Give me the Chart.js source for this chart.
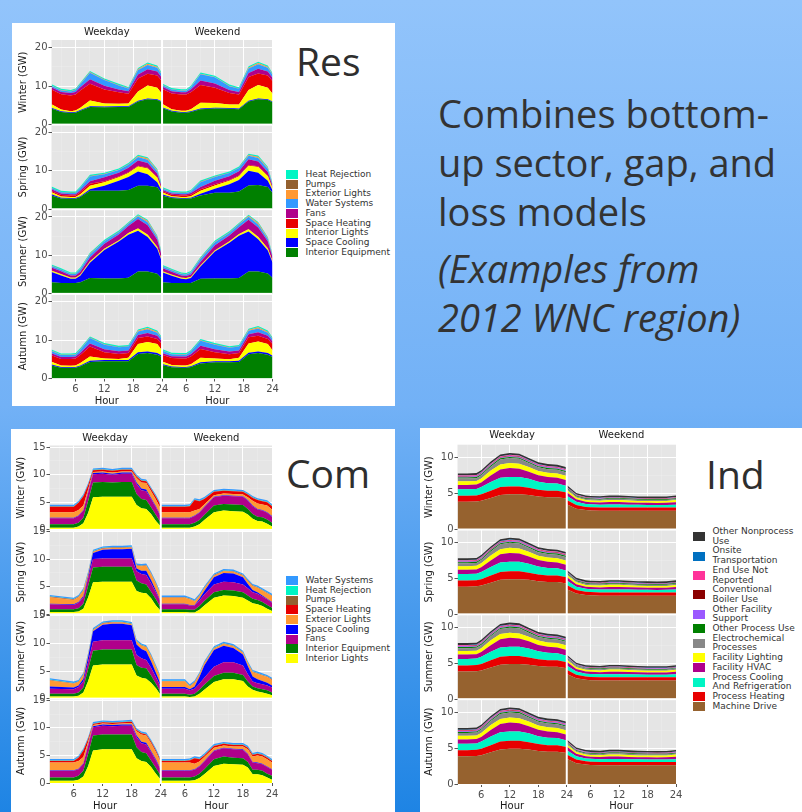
<!DOCTYPE html>
<html>
<head>
<meta charset="utf-8">
<title>Bottom-up load models</title>
<script src="https://cdn.jsdelivr.net/npm/chart.js@4.4.1/dist/chart.umd.min.js"></script>
<style>
  html, body { margin: 0; padding: 0; }
  body {
    width: 802px; height: 812px; position: relative; overflow: hidden;
    background: linear-gradient(180deg, #92c4fb 0%, #72b1f6 50%, #1e84e4 100%);
    font-family: 'DejaVu Sans', sans-serif;
  }
  .panel { position: absolute; background: #fff; }
  canvas { position: absolute; }
  .sector { position: absolute; font-family: 'Open Sans', sans-serif; font-size: 39px; line-height: 39px; color: #2e2e2e; }
  .blurb { position: absolute; left: 438px; top: 89px; font-family: 'Open Sans', sans-serif; font-size: 38px; line-height: 49px; color: #333; }
  .blurb p { margin: 0; white-space: nowrap; }
  .blurb p + p { margin-top: 8px; font-style: italic; }
  .legend { position: absolute; font-size: 9px; color: #333; }
  .legend .item { display: flex; align-items: center; }
  .legend .sw { flex: none; width: 11.5px; height: 9px; margin-right: 8px; }
  .legend .tx { white-space: pre-line; line-height: 9.7px; }
</style>
</head>
<body>
<div class="panel" style="left:12px;top:23px;width:383px;height:383px"></div>
<div class="panel" style="left:11px;top:429px;width:384px;height:383px"></div>
<div class="panel" style="left:420px;top:428px;width:382px;height:384px"></div>

<canvas id="resChart" width="270" height="386" style="left:12px;top:23px"></canvas>
<canvas id="comChart" width="272" height="386" style="left:11px;top:429px"></canvas>
<canvas id="indChart" width="268" height="386" style="left:420px;top:428px"></canvas>

<div class="sector" style="left:296px;top:41px">Res</div>
<div class="sector" style="left:286px;top:453px">Com</div>
<div class="sector" style="left:706px;top:454px">Ind</div>

<div class="blurb">
  <p>Combines bottom-<br>up sector, gap, and<br>loss models</p>
  <p>(Examples from<br>2012 WNC region)</p>
</div>

<div class="legend" id="resLegend" style="left:286px;top:170px"></div>
<div class="legend" id="comLegend" style="left:286px;top:576px"></div>
<div class="legend" id="indLegend" style="left:693px;top:527px"></div>

<script>
Chart.defaults.font.family = "'DejaVu Sans', sans-serif";
Chart.defaults.font.size = 10;

const seasons = ['Winter', 'Spring', 'Summer', 'Autumn'];
const dayTypes = ['Weekday', 'Weekend'];
const hourTicks = [3, 6, 9, 12, 15, 18, 21, 24];
const hourLabels = [6, 12, 18, 24];

// ---------------- Residential ----------------
const resHours = [1, 3, 5, 6, 7, 9, 12, 15, 17, 19, 21, 23, 24];
const resNames = ['Interior Equipment', 'Space Cooling', 'Interior Lights', 'Space Heating', 'Fans',
  'Water Systems', 'Exterior Lights', 'Pumps', 'Heat Rejection'];
const resColors = ['#008000', '#0000ff', '#ffff00', '#e80000', '#b0008b',
  '#3399ff', '#ff9933', '#93602f', '#00f5c4'];
const resYTicks = [0, 5, 10, 15, 20];
const resYLabels = [0, 10, 20];

const resCoolLow = [0.2, 0.2, 0.2, 0.2, 0.2, 0.2, 0.2, 0.2, 0.2, 0.2, 0.2, 0.2, 0.2];
const resAutumnCool = [0.25, 0.2, 0.2, 0.2, 0.2, 0.3, 0.3, 0.3, 0.3, 0.4, 0.4, 0.4, 0.3];
const resHeatLow = [0.05, 0.05, 0.05, 0.05, 0.05, 0.05, 0.05, 0.05, 0.05, 0.05, 0.05, 0.05, 0.05];
const resExtLights = [0.05, 0.05, 0.05, 0.05, 0.05, 0.1, 0.05, 0.05, 0.05, 0.2, 0.3, 0.2, 0.1];
const resPumps = [0.05, 0.05, 0.05, 0.05, 0.05, 0.05, 0.05, 0.05, 0.05, 0.05, 0.05, 0.05, 0.05];
const resHeatRej = [0.3, 0.3, 0.3, 0.3, 0.3, 0.3, 0.3, 0.3, 0.3, 0.3, 0.3, 0.3, 0.3];

// layers bottom to top, GW
const resWinterWeekday = [
  [4.2, 3.3, 3.0, 3.1, 3.6, 4.6, 4.5, 4.6, 4.6, 6.0, 6.6, 6.4, 5.8],
  resCoolLow,
  [0.9, 0.4, 0.3, 0.4, 0.6, 1.5, 0.8, 0.6, 0.7, 2.4, 3.4, 3.0, 2.0],
  [3.8, 4.0, 4.1, 4.1, 4.5, 4.3, 3.6, 3.0, 2.5, 3.4, 3.0, 3.2, 3.3],
  [0.6, 0.6, 0.6, 0.7, 0.8, 1.2, 1.0, 0.7, 0.7, 1.0, 1.2, 1.0, 0.8],
  [0.4, 0.4, 0.4, 0.5, 0.8, 1.7, 1.5, 1.1, 0.7, 1.2, 1.1, 1.0, 0.8],
  resExtLights, resPumps, resHeatRej
];
const resWinterWeekend = [
  [4.3, 3.4, 3.1, 3.1, 3.3, 4.0, 4.2, 4.1, 4.0, 6.0, 6.6, 6.4, 5.8],
  resCoolLow,
  [0.9, 0.4, 0.3, 0.3, 0.5, 1.5, 1.2, 0.9, 1.0, 2.8, 3.5, 3.0, 2.0],
  [3.9, 4.1, 4.2, 4.2, 4.4, 4.6, 4.0, 3.0, 2.6, 3.4, 3.0, 3.2, 3.3],
  [0.6, 0.6, 0.6, 0.6, 0.7, 1.2, 1.1, 0.8, 0.7, 1.0, 1.2, 1.0, 0.8],
  [0.4, 0.4, 0.4, 0.4, 0.6, 1.6, 1.6, 1.0, 0.8, 1.2, 1.2, 1.0, 0.8],
  resExtLights, resPumps, resHeatRej
];
const resSpringWeekday = [
  [3.6, 2.8, 2.7, 2.7, 3.2, 4.8, 4.8, 4.8, 5.0, 6.1, 6.1, 5.7, 4.0],
  [0.3, 0.2, 0.2, 0.2, 0.2, 0.4, 1.3, 2.6, 3.4, 3.7, 3.0, 1.3, 0.6],
  [0.5, 0.3, 0.3, 0.3, 0.5, 0.9, 0.9, 0.9, 1.0, 1.3, 1.5, 1.2, 0.3],
  [0.3, 0.4, 0.4, 0.4, 0.5, 0.5, 0.3, 0.2, 0.2, 0.2, 0.2, 0.2, 0.3],
  [0.5, 0.4, 0.3, 0.3, 0.5, 0.7, 1.0, 1.0, 1.2, 1.4, 1.2, 0.8, 0.4],
  [0.3, 0.3, 0.3, 0.3, 0.6, 1.2, 0.8, 0.7, 0.8, 0.9, 0.9, 0.7, 0.3],
  resExtLights, resPumps, resHeatRej
];
const resSpringWeekend = [
  [3.6, 2.9, 2.7, 2.7, 2.8, 3.6, 4.3, 4.3, 4.6, 6.2, 6.3, 5.8, 4.2],
  [0.3, 0.2, 0.2, 0.2, 0.2, 0.4, 1.0, 2.2, 3.0, 3.8, 3.2, 1.6, 0.7],
  [0.5, 0.3, 0.3, 0.3, 0.4, 0.8, 0.9, 0.9, 1.0, 1.3, 1.5, 1.2, 0.4],
  [0.3, 0.4, 0.4, 0.4, 0.4, 0.4, 0.3, 0.2, 0.2, 0.2, 0.2, 0.2, 0.3],
  [0.4, 0.3, 0.3, 0.3, 0.4, 0.6, 0.9, 1.0, 1.1, 1.5, 1.2, 0.9, 0.4],
  [0.3, 0.3, 0.3, 0.3, 0.4, 1.2, 1.0, 0.8, 0.8, 0.9, 0.9, 0.8, 0.3],
  resExtLights, resPumps, resHeatRej
];
const resSummerWeekday = [
  [3.0, 2.8, 2.8, 2.8, 3.0, 4.1, 4.0, 4.0, 4.2, 5.8, 5.8, 5.2, 3.9],
  [2.7, 2.0, 1.1, 1.1, 1.7, 4.0, 7.4, 9.6, 11.2, 10.6, 9.0, 6.5, 4.4],
  [0.3, 0.3, 0.3, 0.3, 0.3, 0.3, 0.3, 0.3, 0.4, 0.6, 0.6, 0.5, 0.3],
  resHeatLow,
  [0.8, 0.7, 0.5, 0.5, 0.7, 1.0, 1.3, 1.5, 1.8, 2.4, 2.4, 1.8, 1.0],
  [0.4, 0.4, 0.4, 0.4, 0.7, 0.8, 0.6, 0.6, 0.6, 0.7, 0.8, 0.6, 0.4],
  resExtLights, resPumps, resHeatRej
];
const resSummerWeekend = [
  [3.0, 2.8, 2.8, 2.8, 2.8, 3.9, 4.0, 4.0, 4.1, 5.8, 5.8, 5.3, 4.1],
  [2.6, 1.9, 1.1, 1.0, 1.3, 3.2, 7.0, 9.3, 11.0, 10.4, 8.4, 6.0, 4.0],
  [0.3, 0.3, 0.3, 0.3, 0.3, 0.3, 0.3, 0.3, 0.4, 0.6, 0.6, 0.5, 0.3],
  resHeatLow,
  [0.8, 0.7, 0.5, 0.5, 0.6, 0.9, 1.3, 1.5, 1.8, 2.4, 2.4, 1.8, 1.0],
  [0.4, 0.4, 0.4, 0.4, 0.5, 0.8, 0.8, 0.7, 0.7, 0.8, 0.8, 0.6, 0.4],
  resExtLights, resPumps, resHeatRej
];
const resAutumnWeekday = [
  [3.4, 2.8, 2.7, 2.8, 3.2, 4.3, 4.5, 4.5, 4.5, 6.4, 6.6, 6.2, 5.6],
  resAutumnCool,
  [0.7, 0.4, 0.4, 0.4, 0.6, 1.1, 0.4, 0.3, 0.6, 2.2, 2.5, 2.4, 1.4],
  [1.7, 1.7, 1.8, 1.8, 2.1, 2.6, 1.6, 1.3, 1.2, 1.5, 1.4, 1.3, 1.7],
  [0.5, 0.5, 0.5, 0.5, 0.6, 0.8, 0.8, 0.7, 0.7, 0.8, 0.9, 0.8, 0.6],
  [0.6, 0.5, 0.5, 0.5, 0.8, 1.4, 1.2, 1.0, 1.0, 0.9, 1.0, 0.8, 0.6],
  resExtLights, resPumps, resHeatRej
];
const resAutumnWeekend = [
  [3.5, 2.9, 2.8, 2.8, 3.0, 3.9, 4.2, 4.2, 4.3, 6.3, 6.6, 6.2, 5.6],
  resAutumnCool,
  [0.7, 0.4, 0.4, 0.4, 0.5, 1.2, 0.7, 0.5, 0.8, 2.4, 2.6, 2.4, 1.4],
  [1.7, 1.8, 1.8, 1.8, 2.0, 2.3, 1.6, 1.3, 1.2, 1.6, 1.5, 1.3, 1.7],
  [0.5, 0.5, 0.5, 0.5, 0.6, 0.8, 0.8, 0.7, 0.7, 0.8, 0.9, 0.8, 0.6],
  [0.6, 0.5, 0.5, 0.5, 0.7, 1.3, 1.2, 1.0, 1.0, 0.9, 1.0, 0.8, 0.6],
  resExtLights, resPumps, resHeatRej
];

// ---------------- Commercial ----------------
const comHours = [1, 6, 7, 8, 9, 10, 12, 14, 16, 18, 19, 20, 21, 22, 23, 24];
const comNames = ['Interior Lights', 'Interior Equipment', 'Fans', 'Space Cooling', 'Exterior Lights',
  'Space Heating', 'Pumps', 'Heat Rejection', 'Water Systems'];
const comColors = ['#ffff00', '#008000', '#b0008b', '#0000ff', '#ff9933',
  '#e80000', '#93602f', '#00f5c4', '#3399ff'];
const comYTicks = [0, 2.5, 5, 7.5, 10, 12.5, 15];
const comYLabels = [0, 5, 10, 15];

const comCoolLow = [0.1, 0.1, 0.1, 0.1, 0.1, 0.1, 0.1, 0.1, 0.1, 0.1, 0.1, 0.1, 0.1, 0.1, 0.1, 0.1];
const comHeatLow = [0.05, 0.05, 0.05, 0.05, 0.05, 0.05, 0.05, 0.05, 0.05, 0.05, 0.05, 0.05, 0.05, 0.05, 0.05, 0.05];
const comPumps = [0.05, 0.05, 0.05, 0.05, 0.05, 0.05, 0.05, 0.05, 0.05, 0.05, 0.05, 0.05, 0.05, 0.05, 0.05, 0.05];
const comHeatRej = [0.05, 0.05, 0.05, 0.05, 0.05, 0.05, 0.05, 0.05, 0.05, 0.05, 0.05, 0.05, 0.05, 0.05, 0.05, 0.05];
const comWater = [0.25, 0.25, 0.25, 0.25, 0.25, 0.25, 0.25, 0.25, 0.25, 0.25, 0.25, 0.25, 0.25, 0.25, 0.25, 0.25];

const comWinterWeekday = [
  [0.4, 0.4, 0.6, 1.2, 3.1, 5.9, 6.0, 6.0, 6.0, 6.0, 4.5, 3.9, 3.8, 2.9, 1.6, 0.6],
  [0.6, 0.6, 0.7, 1.0, 2.2, 2.7, 2.7, 2.6, 2.7, 2.7, 2.0, 1.7, 1.6, 1.2, 1.1, 0.7],
  [1.1, 1.1, 1.2, 1.3, 1.5, 1.5, 1.5, 1.4, 1.5, 1.5, 1.8, 1.6, 1.6, 1.5, 1.4, 1.1],
  [0.1, 0.1, 0.1, 0.1, 0.15, 0.2, 0.2, 0.2, 0.2, 0.2, 0.3, 0.3, 0.3, 0.2, 0.2, 0.1],
  [1.0, 1.0, 1.0, 0.8, 0.4, 0.2, 0.2, 0.2, 0.2, 0.2, 0.8, 1.1, 1.2, 1.2, 1.2, 1.3],
  [1.0, 1.0, 1.3, 1.7, 0.8, 0.3, 0.3, 0.3, 0.3, 0.3, 0.3, 0.3, 0.3, 0.4, 0.5, 0.6],
  comPumps, comHeatRej, comWater
];
const comWinterWeekend = [
  [0.4, 0.4, 0.4, 0.6, 1.0, 1.8, 3.2, 3.5, 3.4, 3.3, 2.8, 2.0, 1.6, 1.5, 1.1, 0.6],
  [0.6, 0.6, 0.6, 0.7, 0.8, 0.9, 1.2, 1.2, 1.2, 1.2, 1.0, 0.9, 0.8, 0.8, 0.8, 0.7],
  [1.1, 1.1, 1.1, 1.2, 1.3, 1.4, 1.5, 1.5, 1.5, 1.5, 1.5, 1.4, 1.3, 1.2, 1.2, 1.1],
  comCoolLow,
  [1.0, 1.0, 1.0, 0.9, 0.6, 0.4, 0.3, 0.3, 0.3, 0.3, 0.5, 0.9, 1.0, 1.0, 1.2, 1.2],
  [1.0, 1.0, 1.1, 1.9, 1.4, 1.0, 0.6, 0.5, 0.5, 0.5, 0.5, 0.5, 0.6, 0.6, 0.6, 0.6],
  comPumps, comHeatRej, comWater
];
const comSpringWeekday = [
  [0.4, 0.4, 0.5, 1.0, 3.1, 5.8, 5.9, 5.9, 5.9, 5.9, 4.2, 3.9, 3.8, 2.9, 1.6, 0.6],
  [0.5, 0.5, 0.6, 0.9, 2.1, 2.7, 2.7, 2.7, 2.7, 2.7, 1.9, 1.7, 1.6, 1.2, 1.1, 0.6],
  [0.9, 0.8, 1.0, 1.2, 1.4, 1.5, 1.5, 1.5, 1.5, 1.5, 1.7, 1.7, 1.7, 1.5, 1.3, 1.0],
  [0.1, 0.1, 0.1, 0.2, 0.4, 1.1, 1.6, 1.7, 1.7, 1.8, 0.5, 0.6, 0.8, 0.6, 0.3, 0.1],
  [1.2, 0.8, 0.9, 1.0, 0.4, 0.2, 0.2, 0.2, 0.2, 0.2, 0.5, 0.8, 0.9, 1.1, 1.2, 1.2],
  comHeatLow, comPumps, comHeatRej, comWater
];
const comSpringWeekend = [
  [0.4, 0.4, 0.3, 0.3, 0.8, 1.6, 3.0, 3.4, 3.3, 3.0, 2.5, 2.0, 1.8, 1.5, 1.0, 0.6],
  [0.5, 0.5, 0.5, 0.5, 0.7, 0.8, 1.0, 1.0, 1.0, 1.0, 0.9, 0.8, 0.8, 0.7, 0.7, 0.6],
  [0.9, 0.9, 0.8, 0.8, 1.0, 1.2, 1.4, 1.5, 1.5, 1.4, 1.3, 1.2, 1.1, 1.0, 1.0, 0.9],
  [0.1, 0.1, 0.1, 0.1, 0.3, 0.6, 1.3, 1.6, 1.6, 1.3, 0.8, 0.4, 0.3, 0.2, 0.1, 0.1],
  [1.1, 1.1, 1.0, 0.6, 0.5, 0.5, 0.3, 0.3, 0.3, 0.3, 0.5, 0.7, 0.8, 0.9, 1.0, 1.1],
  comHeatLow, comPumps, comHeatRej, comWater
];
const comSummerWeekday = [
  [0.4, 0.4, 0.5, 1.1, 3.2, 6.0, 6.2, 6.2, 6.2, 6.2, 4.2, 3.8, 3.6, 2.9, 1.9, 0.6],
  [0.5, 0.5, 0.6, 0.9, 2.2, 2.7, 2.7, 2.7, 2.7, 2.7, 1.9, 1.8, 1.9, 1.3, 0.8, 0.5],
  [0.9, 0.8, 1.0, 1.1, 1.3, 1.6, 1.7, 1.7, 1.7, 1.7, 1.8, 1.7, 1.5, 1.4, 1.2, 1.0],
  [0.4, 0.3, 0.3, 0.5, 0.9, 1.9, 2.8, 3.0, 3.0, 2.7, 1.9, 1.7, 1.6, 1.2, 0.8, 0.5],
  [1.1, 0.7, 0.6, 0.7, 0.3, 0.2, 0.2, 0.2, 0.2, 0.2, 0.5, 0.6, 0.7, 0.9, 1.0, 1.0],
  comHeatLow, comPumps, comHeatRej, comWater
];
const comSummerWeekend = [
  [0.4, 0.4, 0.3, 0.4, 0.9, 1.6, 3.0, 3.5, 3.5, 3.2, 2.2, 1.6, 1.3, 1.1, 0.9, 0.6],
  [0.5, 0.5, 0.4, 0.5, 0.7, 0.9, 1.1, 1.2, 1.2, 1.1, 0.9, 0.6, 0.6, 0.6, 0.6, 0.5],
  [0.9, 0.9, 0.8, 0.9, 1.1, 1.3, 1.7, 1.9, 1.9, 1.7, 1.3, 0.9, 0.9, 0.9, 0.9, 0.9],
  [0.3, 0.3, 0.2, 0.4, 1.2, 2.2, 3.0, 3.0, 2.6, 2.0, 1.5, 0.9, 0.7, 0.6, 0.5, 0.4],
  [1.0, 1.0, 0.5, 0.7, 0.5, 0.4, 0.3, 0.3, 0.3, 0.3, 0.5, 0.8, 1.0, 1.0, 1.0, 1.0],
  comHeatLow, comPumps, comHeatRej, comWater
];
const comAutumnWeekday = [
  [0.4, 0.4, 0.6, 1.2, 3.1, 5.9, 6.1, 6.1, 6.1, 6.1, 4.5, 4.0, 3.8, 2.9, 1.7, 0.6],
  [0.6, 0.6, 0.7, 1.0, 2.2, 2.7, 2.7, 2.7, 2.7, 2.7, 2.0, 1.6, 1.6, 1.2, 1.0, 0.7],
  [1.2, 1.2, 1.2, 1.3, 1.5, 1.5, 1.6, 1.5, 1.6, 1.6, 1.8, 1.6, 1.6, 1.5, 1.4, 1.1],
  [0.1, 0.1, 0.1, 0.1, 0.2, 0.2, 0.2, 0.2, 0.2, 0.2, 0.3, 0.3, 0.3, 0.2, 0.2, 0.1],
  [1.4, 1.4, 1.4, 1.1, 0.5, 0.2, 0.2, 0.2, 0.2, 0.3, 0.8, 1.3, 1.3, 1.4, 1.3, 1.2],
  [0.3, 0.3, 0.6, 1.2, 0.5, 0.2, 0.2, 0.2, 0.2, 0.2, 0.2, 0.2, 0.2, 0.3, 0.3, 0.3],
  comPumps, comHeatRej, comWater
];
const comAutumnWeekend = [
  [0.4, 0.4, 0.4, 0.5, 0.9, 1.6, 3.1, 3.5, 3.4, 3.3, 2.8, 1.6, 1.6, 1.4, 1.0, 0.6],
  [0.6, 0.6, 0.6, 0.7, 0.8, 0.9, 1.2, 1.3, 1.2, 1.2, 1.0, 0.8, 0.8, 0.8, 0.7, 0.7],
  [1.2, 1.2, 1.2, 1.2, 1.3, 1.4, 1.5, 1.5, 1.5, 1.5, 1.4, 1.3, 1.2, 1.2, 1.2, 1.1],
  comCoolLow,
  [1.4, 1.4, 1.4, 1.0, 0.8, 0.7, 0.5, 0.4, 0.4, 0.5, 0.8, 1.0, 1.3, 1.3, 1.3, 1.2],
  [0.3, 0.3, 0.4, 1.0, 0.4, 0.3, 0.3, 0.3, 0.3, 0.3, 0.3, 0.3, 0.3, 0.3, 0.3, 0.3],
  comPumps, comHeatRej, comWater
];

// ---------------- Industrial ----------------
const indHours = [1, 3, 5, 6, 8, 10, 12, 14, 16, 18, 20, 22, 24];
const indNames = ['Machine Drive', 'Process Heating', 'Process Cooling\nAnd Refrigeration', 'Facility HVAC',
  'Facility Lighting', 'Electrochemical\nProcesses', 'Other Process Use', 'Other Facility\nSupport',
  'Conventional\nBoiler Use', 'End Use Not\nReported', 'Onsite\nTransportation', 'Other Nonprocess\nUse'];
const indColors = ['#96622f', '#e80000', '#00f5c4', '#b0008b', '#ffff00', '#888888',
  '#008000', '#9b59ff', '#8b0000', '#ff3399', '#0070c0', '#333333'];
const indYTicks = [0, 2.5, 5, 7.5, 10];
const indYLabels = [0, 5, 10];

const indWeekday = [
  [3.85, 3.85, 3.9, 4.0, 4.4, 4.8, 4.9, 4.9, 4.8, 4.6, 4.5, 4.5, 4.3],
  [0.85, 0.85, 0.85, 0.9, 1.0, 1.1, 1.1, 1.1, 1.0, 0.95, 0.9, 0.9, 0.85],
  [0.9, 0.9, 0.9, 1.0, 1.2, 1.3, 1.3, 1.3, 1.25, 1.1, 1.05, 1.0, 0.9],
  [0.6, 0.6, 0.6, 0.65, 0.9, 1.15, 1.25, 1.15, 1.0, 0.9, 0.85, 0.8, 0.8],
  [0.5, 0.5, 0.5, 0.55, 0.7, 0.7, 0.7, 0.7, 0.65, 0.6, 0.6, 0.6, 0.6],
  [0.4, 0.4, 0.4, 0.45, 0.55, 0.7, 0.7, 0.7, 0.55, 0.5, 0.5, 0.5, 0.5],
  [0.15, 0.15, 0.15, 0.15, 0.15, 0.15, 0.15, 0.15, 0.15, 0.15, 0.15, 0.15, 0.15],
  [0.1, 0.1, 0.1, 0.1, 0.1, 0.1, 0.1, 0.1, 0.1, 0.1, 0.1, 0.1, 0.1],
  [0.05, 0.05, 0.05, 0.05, 0.05, 0.05, 0.05, 0.05, 0.05, 0.05, 0.05, 0.05, 0.05],
  [0.1, 0.1, 0.1, 0.1, 0.1, 0.1, 0.1, 0.1, 0.1, 0.1, 0.1, 0.1, 0.1],
  [0.05, 0.05, 0.05, 0.05, 0.05, 0.05, 0.05, 0.05, 0.05, 0.05, 0.05, 0.05, 0.05],
  [0.25, 0.25, 0.25, 0.25, 0.25, 0.25, 0.25, 0.25, 0.25, 0.25, 0.25, 0.25, 0.25]
];
const indWeekend = [
  [3.5, 2.9, 2.7, 2.65, 2.6, 2.6, 2.6, 2.6, 2.6, 2.6, 2.6, 2.6, 2.6],
  [0.6, 0.5, 0.45, 0.45, 0.45, 0.45, 0.45, 0.45, 0.45, 0.45, 0.45, 0.45, 0.45],
  [0.6, 0.45, 0.4, 0.4, 0.4, 0.42, 0.42, 0.4, 0.38, 0.36, 0.35, 0.36, 0.4],
  [0.5, 0.35, 0.3, 0.3, 0.3, 0.35, 0.35, 0.32, 0.3, 0.3, 0.3, 0.3, 0.35],
  [0.3, 0.25, 0.25, 0.25, 0.25, 0.3, 0.3, 0.28, 0.25, 0.25, 0.25, 0.25, 0.3],
  [0.2, 0.15, 0.15, 0.15, 0.15, 0.15, 0.15, 0.15, 0.15, 0.15, 0.15, 0.15, 0.15],
  [0.1, 0.1, 0.1, 0.1, 0.1, 0.1, 0.1, 0.1, 0.1, 0.1, 0.1, 0.1, 0.1],
  [0.05, 0.05, 0.05, 0.05, 0.05, 0.05, 0.05, 0.05, 0.05, 0.05, 0.05, 0.05, 0.05],
  [0.03, 0.03, 0.03, 0.03, 0.03, 0.03, 0.03, 0.03, 0.03, 0.03, 0.03, 0.03, 0.03],
  [0.05, 0.05, 0.05, 0.05, 0.05, 0.05, 0.05, 0.05, 0.05, 0.05, 0.05, 0.05, 0.05],
  [0.03, 0.03, 0.03, 0.03, 0.03, 0.03, 0.03, 0.03, 0.03, 0.03, 0.03, 0.03, 0.03],
  [0.22, 0.22, 0.22, 0.22, 0.22, 0.22, 0.22, 0.22, 0.22, 0.22, 0.22, 0.22, 0.22]
];

// gray facet backgrounds and the white gutters between facets
const facetBackdrop = {
  id: 'facetBackdrop',
  beforeDraw(chart) {
    const { ctx, chartArea: a } = chart;
    ctx.save();
    ctx.fillStyle = '#e5e5e5';
    ctx.fillRect(a.left, a.top, a.right - a.left, a.bottom - a.top);
    ctx.restore();
  },
  afterDatasetsDraw(chart) {
    const { ctx, chartArea: a, scales } = chart;
    ctx.save();
    ctx.fillStyle = '#ffffff';
    for (let s = 0; s < seasons.length - 1; s++) {
      ctx.fillRect(a.left, scales['y' + s].bottom - 1, a.right - a.left, 2);
    }
    ctx.fillRect(scales.xd.right - 1, a.top, 2, a.bottom - a.top);
    ctx.restore();
  }
};

const Y_AXIS_W = 34;
const MINOR_GRID = 'rgba(255,255,255,0.3)';

function drawPanel(canvasId, p) {
  const canvas = document.getElementById(canvasId);
  const cx = parseFloat(canvas.style.left), cy = parseFloat(canvas.style.top);
  const [L, T, R, B] = p.area;

  const datasets = [];
  p.data.forEach((days, s) => {
    days.forEach((layers, d) => {
      layers.forEach((vals, k) => {
        datasets.push({
          label: p.names[k],
          data: vals.map((v, i) => ({ x: p.hours[i], y: v })),
          xAxisID: d === 0 ? 'xd' : 'xe',
          yAxisID: 'y' + s,
          backgroundColor: p.colors[k],
          borderColor: 'rgba(0,0,0,0)',
          borderWidth: 0,
          pointRadius: 0,
          tension: 0,
          fill: k === 0 ? 'origin' : '-1'
        });
      });
    });
  });

  const isMajorHour = v => hourLabels.includes(v);
  const isMajorY = v => p.yLabels.includes(v);
  const scales = {};

  dayTypes.forEach((name, d) => {
    scales[d === 0 ? 'xd' : 'xe'] = {
      type: 'linear', position: 'bottom', stack: 'hour', stackWeight: 1, weight: d + 1,
      min: 1, max: 24,
      afterBuildTicks: sc => { sc.ticks = hourTicks.map(v => ({ value: v })); },
      afterFit: sc => { sc.height = p.axisH; sc.paddingLeft = 0; sc.paddingRight = 0; },
      ticks: {
        autoSkip: false, maxRotation: 0, minRotation: 0, padding: 2, color: '#4d4d4d',
        callback: v => isMajorHour(v) ? String(v) : ''
      },
      grid: {
        color: c => isMajorHour(c.tick.value) ? '#ffffff' : MINOR_GRID,
        lineWidth: c => isMajorHour(c.tick.value) ? 1 : 0.5,
        tickLength: 3,
        tickColor: c => isMajorHour(c.tick.value) ? '#555555' : 'rgba(0,0,0,0)'
      },
      border: { display: false },
      title: { display: true, text: 'Hour', color: '#1a1a1a', padding: 0 }
    };
    scales[d === 0 ? 'td' : 'te'] = {
      type: 'linear', position: 'top', stack: 'strip', stackWeight: 1, weight: 2 - d,
      min: 1, max: 24,
      afterFit: sc => { sc.height = p.stripH; sc.paddingLeft = 0; sc.paddingRight = 0; },
      ticks: { display: false },
      grid: { display: false, drawTicks: false },
      border: { display: false },
      title: { display: true, text: name, color: '#1a1a1a', padding: 0 }
    };
  });

  seasons.forEach((name, s) => {
    scales['y' + s] = {
      type: 'linear', position: 'left', stack: 'season', stackWeight: 1, weight: seasons.length - s,
      stacked: true, min: 0, max: p.yMax,
      afterBuildTicks: sc => { sc.ticks = p.yTicks.map(v => ({ value: v })); },
      afterFit: sc => { sc.width = Y_AXIS_W; sc.paddingTop = 0; sc.paddingBottom = 0; },
      ticks: {
        autoSkip: false, padding: 1, color: '#4d4d4d',
        callback: v => isMajorY(v) ? String(v) : ''
      },
      grid: {
        color: c => isMajorY(c.tick.value) ? '#ffffff' : MINOR_GRID,
        lineWidth: c => isMajorY(c.tick.value) ? 1 : 0.5,
        tickLength: 3,
        tickColor: c => isMajorY(c.tick.value) ? '#555555' : 'rgba(0,0,0,0)'
      },
      border: { display: false },
      title: { display: true, text: name + ' (GW)', color: '#1a1a1a', padding: 0 }
    };
  });

  return new Chart(canvas, {
    type: 'line',
    data: { datasets },
    options: {
      responsive: false,
      animation: false,
      events: [],
      layout: {
        autoPadding: false,
        padding: {
          left: L - cx - Y_AXIS_W,
          top: T - cy - p.stripH,
          right: cx + canvas.width - R,
          bottom: cy + canvas.height - B - p.axisH
        }
      },
      plugins: { legend: { display: false }, tooltip: { enabled: false } },
      scales
    },
    plugins: [facetBackdrop]
  });
}

function buildLegend(id, names, colors) {
  const box = document.getElementById(id);
  for (let k = names.length - 1; k >= 0; k--) {
    const item = document.createElement('div');
    item.className = 'item';
    const sw = document.createElement('span');
    sw.className = 'sw';
    sw.style.background = colors[k];
    const tx = document.createElement('span');
    tx.className = 'tx';
    tx.textContent = names[k];
    item.append(sw, tx);
    box.appendChild(item);
  }
}

drawPanel('resChart', {
  hours: resHours, names: resNames, colors: resColors,
  yMax: 22, yTicks: resYTicks, yLabels: resYLabels,
  data: [
    [resWinterWeekday, resWinterWeekend],
    [resSpringWeekday, resSpringWeekend],
    [resSummerWeekday, resSummerWeekend],
    [resAutumnWeekday, resAutumnWeekend]
  ],
  area: [51.5, 40, 272.6, 378.5], stripH: 13.3, axisH: 29.2
});

drawPanel('comChart', {
  hours: comHours, names: comNames, colors: comColors,
  yMax: 15.3, yTicks: comYTicks, yLabels: comYLabels,
  data: [
    [comWinterWeekday, comWinterWeekend],
    [comSpringWeekday, comSpringWeekend],
    [comSummerWeekday, comSummerWeekend],
    [comAutumnWeekday, comAutumnWeekend]
  ],
  area: [49.5, 445.5, 272, 783], stripH: 13.5, axisH: 29.7
});

drawPanel('indChart', {
  hours: indHours, names: indNames, colors: indColors,
  yMax: 11.8, yTicks: indYTicks, yLabels: indYLabels,
  data: [
    [indWeekday, indWeekend],
    [indWeekday, indWeekend],
    [indWeekday, indWeekend],
    [indWeekday, indWeekend]
  ],
  area: [457.5, 444.7, 676, 784], stripH: 15.4, axisH: 28
});

buildLegend('resLegend', resNames, resColors);
buildLegend('comLegend', comNames, comColors);
buildLegend('indLegend', indNames, indColors);
</script>
</body>
</html>
